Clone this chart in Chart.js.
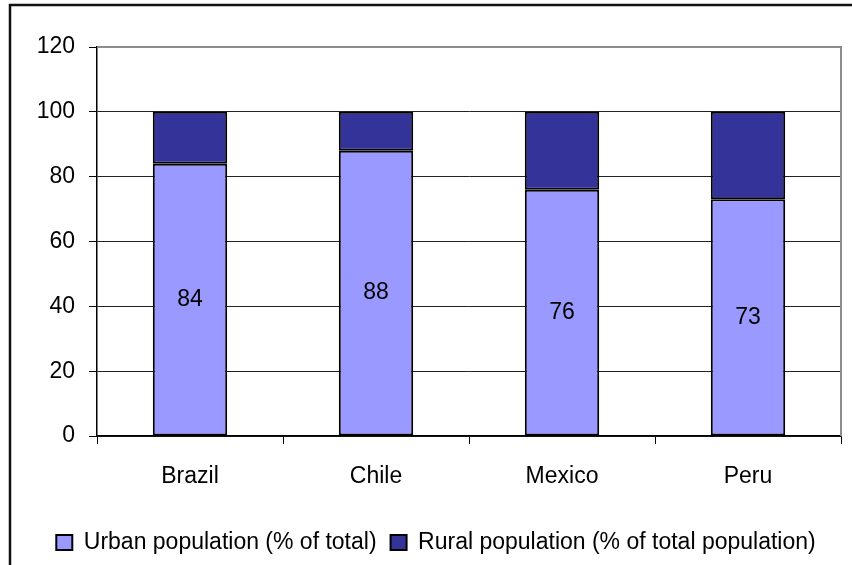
<!DOCTYPE html>
<html>
<head>
<meta charset="utf-8">
<script src="https://cdn.jsdelivr.net/npm/chart.js@4/dist/chart.umd.min.js"></script>
<style>
  body { margin: 0; background: #fff; }
  #wrap { width: 852px; height: 565px; position: relative; }
</style>
</head>
<body>
<div id="wrap"><canvas id="myChart" width="852" height="565"></canvas></div>
<script>
const countries = ["Brazil", "Chile", "Mexico", "Peru"];
const urban = [84, 88, 76, 73];
const rural = [16, 12, 24, 27];
const yTicks = [0, 20, 40, 60, 80, 100, 120];

const font = { family: "'Liberation Sans', Arial, sans-serif", size: 23 };

// chart frame + plot border + value labels
const extras = {
    id: 'extras',
    beforeDraw(chart) {
        const ctx = chart.ctx;
        ctx.save();
        ctx.strokeStyle = '#111';
        ctx.lineWidth = 2.5;
        ctx.beginPath();
        ctx.moveTo(10, 565);
        ctx.lineTo(10, 5);
        ctx.lineTo(852, 5);
        ctx.stroke();
        ctx.restore();
    },
    afterDatasetsDraw(chart) {
        const ctx = chart.ctx;
        const a = chart.chartArea;
        ctx.save();
        ctx.strokeStyle = '#8c8c8c';
        ctx.lineWidth = 2;
        ctx.beginPath();
        ctx.moveTo(a.left, a.top);
        ctx.lineTo(a.right, a.top);
        ctx.lineTo(a.right, a.bottom);
        ctx.stroke();

        ctx.fillStyle = '#000';
        ctx.font = font.size + 'px ' + font.family;
        ctx.textAlign = 'center';
        ctx.textBaseline = 'middle';
        chart.getDatasetMeta(0).data.forEach((bar, i) => {
            ctx.fillText(urban[i], bar.x, (bar.y + bar.base) / 2);
        });
        ctx.restore();
    }
};

new Chart(document.getElementById("myChart"), {
    type: 'bar',
    data: {
        labels: countries,
        datasets: [{
            label: "Urban population (% of total)",
            data: urban,
            backgroundColor: '#9999ff',
            borderColor: '#000',
            borderWidth: 2,
            borderSkipped: false
        }, {
            label: "Rural population (% of total population)",
            data: rural,
            backgroundColor: '#333399',
            borderColor: '#000',
            borderWidth: 2,
            borderSkipped: false
        }]
    },
    options: {
        responsive: false,
        animation: false,
        layout: { padding: { left: 31, right: 11, top: 47, bottom: 1 } },
        datasets: { bar: { categoryPercentage: 1, barPercentage: 0.4 } },
        plugins: {
            tooltip: { enabled: false },
            legend: {
                position: 'bottom',
                labels: {
                    color: '#000',
                    font: font,
                    boxWidth: 16,
                    boxHeight: 15,
                    padding: 14
                }
            }
        },
        scales: {
            x: {
                stacked: true,
                offset: true,
                grid: { drawOnChartArea: false, color: '#000', tickLength: 8, offset: true },
                border: { color: '#000', width: 1.5 },
                ticks: { color: '#000', font: font, padding: 19 },
                afterFit(s) { s.height = 81; }
            },
            y: {
                stacked: true,
                min: 0,
                max: 120,
                afterBuildTicks(s) { s.ticks = yTicks.map(v => ({ value: v })); },
                grid: {
                    color: c => c.tick && c.tick.value === 120 ? '#8c8c8c' : '#222',
                    tickColor: '#000',
                    tickLength: 8
                },
                border: { color: '#000', width: 1.5 },
                ticks: { color: '#000', font: font, padding: 14 },
                afterFit(s) { s.width = 66; }
            }
        }
    },
    plugins: [extras]
});
</script>
</body>
</html>
